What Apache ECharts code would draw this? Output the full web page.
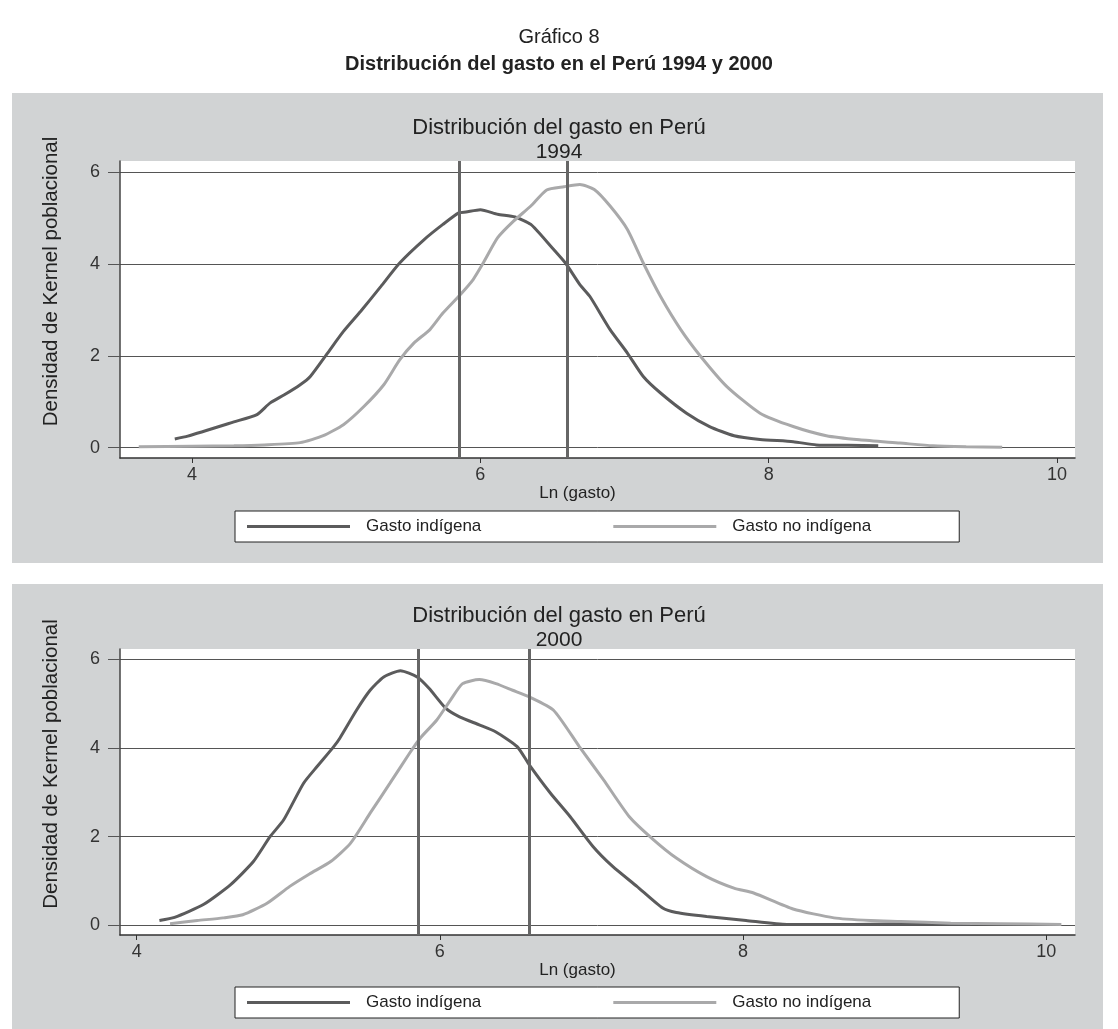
<!DOCTYPE html>
<html>
<head>
<meta charset="utf-8">
<script src="https://cdn.jsdelivr.net/npm/echarts@6/dist/echarts.min.js"></script>
<style>
  html, body { margin: 0; padding: 0; background: #fff; }
  #chart { width: 1118px; height: 1029px; }
</style>
</head>
<body>
<div id="chart"></div>
<script>
// tick labels
var xTicks = [4, 6, 8, 10];
var yTicks = [0, 2, 4, 6];
var seriesNames = ['Gasto indígena', 'Gasto no indígena'];

// 1994 - gasto indigena
var ind94X = [3.88, 3.97, 4.29, 4.45, 4.54, 4.64, 4.75, 4.82, 4.94, 5.05, 5.17, 5.31, 5.44, 5.61, 5.74, 5.85, 5.90, 6.00, 6.12, 6.24, 6.35, 6.49, 6.59, 6.69, 6.76, 6.90, 7.02, 7.13, 7.25, 7.43, 7.59, 7.76, 7.94, 8.17, 8.33, 8.55, 8.76];
var ind94Y = [0.19, 0.25, 0.56, 0.72, 0.97, 1.15, 1.37, 1.55, 2.06, 2.53, 2.97, 3.51, 4.02, 4.53, 4.86, 5.11, 5.13, 5.18, 5.08, 5.02, 4.86, 4.38, 4.02, 3.55, 3.29, 2.57, 2.06, 1.55, 1.19, 0.75, 0.46, 0.26, 0.18, 0.13, 0.06, 0.05, 0.04];
// 1994 - gasto no indigena
var noInd94X = [3.63, 4.00, 4.29, 4.50, 4.75, 4.91, 5.05, 5.19, 5.33, 5.44, 5.54, 5.65, 5.74, 5.86, 5.95, 6.02, 6.12, 6.23, 6.35, 6.46, 6.58, 6.69, 6.79, 6.90, 7.02, 7.13, 7.25, 7.39, 7.53, 7.71, 7.94, 8.17, 8.40, 8.63, 8.91, 9.14, 9.37, 9.62];
var noInd94Y = [0.02, 0.03, 0.04, 0.06, 0.11, 0.26, 0.50, 0.89, 1.37, 1.91, 2.28, 2.57, 2.93, 3.33, 3.66, 4.02, 4.57, 4.93, 5.26, 5.61, 5.68, 5.73, 5.62, 5.26, 4.75, 4.02, 3.29, 2.57, 1.98, 1.33, 0.75, 0.46, 0.26, 0.17, 0.10, 0.04, 0.02, 0.01];
// 2000 - gasto indigena
var ind00X = [4.15, 4.25, 4.44, 4.62, 4.77, 4.88, 4.97, 5.10, 5.19, 5.30, 5.34, 5.45, 5.54, 5.63, 5.74, 5.85, 5.93, 6.04, 6.13, 6.26, 6.37, 6.51, 6.59, 6.73, 6.86, 7.01, 7.14, 7.30, 7.47, 7.56, 7.76, 8.02, 8.29, 8.73, 9.17, 9.50];
var ind00Y = [0.11, 0.18, 0.47, 0.92, 1.44, 2.00, 2.38, 3.20, 3.58, 4.03, 4.22, 4.85, 5.30, 5.60, 5.74, 5.60, 5.34, 4.89, 4.70, 4.52, 4.36, 4.03, 3.62, 2.98, 2.45, 1.78, 1.33, 0.88, 0.39, 0.29, 0.20, 0.11, 0.02, 0.02, 0.04, 0.02];
// 2000 - gasto no indigena
var noInd00X = [4.22, 4.40, 4.57, 4.70, 4.86, 5.01, 5.14, 5.28, 5.41, 5.54, 5.67, 5.80, 5.87, 5.98, 6.07, 6.15, 6.26, 6.37, 6.48, 6.59, 6.75, 6.92, 7.08, 7.25, 7.41, 7.56, 7.76, 7.94, 8.07, 8.33, 8.60, 8.84, 9.04, 9.37, 9.70, 10.10];
var noInd00Y = [0.04, 0.11, 0.17, 0.24, 0.50, 0.88, 1.16, 1.44, 1.85, 2.53, 3.20, 3.88, 4.22, 4.63, 5.08, 5.45, 5.54, 5.45, 5.30, 5.15, 4.85, 4.03, 3.28, 2.45, 1.93, 1.52, 1.10, 0.84, 0.73, 0.37, 0.17, 0.11, 0.09, 0.05, 0.04, 0.02];

// medias (lineas verticales)
var means94 = [5.85, 6.60];
var means00 = [5.86, 6.59];

var FONT = '"Liberation Sans", Arial, sans-serif';
var DARK = '#5b5b5c';
var LIGHT = '#a9a9aa';

function zip(xs, ys) {
    return xs.map(function (x, i) { return [x, ys[i]]; });
}

function xAxisFor(idx, min, max) {
    return {
        type: 'value', gridIndex: idx, min: min, max: max,
        name: 'Ln (gasto)', nameLocation: 'middle', nameGap: 27,
        // titulo un poco corrido a la izquierda, como en el original
        nameTextStyle: { fontFamily: FONT, fontSize: 17, color: '#222', padding: [0, 40, 0, 0] },
        axisLine: { show: true, onZero: false, lineStyle: { color: '#333', width: 1.5 } },
        axisTick: { show: true, length: 5, customValues: xTicks, lineStyle: { color: '#333' } },
        axisLabel: { customValues: xTicks, fontFamily: FONT, fontSize: 18, color: '#333', margin: 8 },
        splitLine: { show: false }
    };
}

function yAxisFor(idx, min, max) {
    return {
        type: 'value', gridIndex: idx, min: min, max: max,
        name: 'Densidad de Kernel poblacional', nameLocation: 'middle', nameGap: 58, nameRotate: 90,
        nameTextStyle: { fontFamily: FONT, fontSize: 20.5, color: '#222', padding: [0, 0, 0, 56] },
        axisLine: { show: true, onZero: false, lineStyle: { color: '#444', width: 1.5 } },
        axisTick: { show: true, length: 12, customValues: yTicks, lineStyle: { color: '#555' } },
        axisLabel: { customValues: yTicks, fontFamily: FONT, fontSize: 18, color: '#333', margin: 20 },
        splitLine: { show: true, lineStyle: { color: '#555', width: 1 } }
    };
}

function meanLine(vals) {
    return {
        silent: true, symbol: ['none', 'none'], label: { show: false },
        lineStyle: { color: '#666', width: 3, type: 'solid' },
        data: vals.map(function (v) { return { xAxis: v }; })
    };
}

function lineSeries(name, color, idx, data, marks) {
    var s = {
        name: name, type: 'line', xAxisIndex: idx, yAxisIndex: idx,
        data: data, showSymbol: false, smooth: 0.2, color: color,
        lineStyle: { color: color, width: 3 }
    };
    if (marks) s.markLine = meanLine(marks);
    return s;
}

function legendAt(top) {
    return {
        left: 235, top: top, icon: 'rect', itemWidth: 103, itemHeight: 3, itemGap: 132,
        padding: [7, 88, 7, 12],
        backgroundColor: '#fff', borderColor: '#222', borderWidth: 1, borderRadius: 0,
        selectedMode: false,
        textStyle: { fontFamily: FONT, fontSize: 17, color: '#222', padding: [0, 0, 0, 11] },
        data: seriesNames
    };
}

function textTitle(text, top, size, weight) {
    return {
        text: text, left: 'center', top: top,
        textStyle: { fontFamily: FONT, fontSize: size, fontWeight: weight, color: '#222' }
    };
}

var chart = echarts.init(document.getElementById('chart'), null, { renderer: 'canvas' });
chart.setOption({
    backgroundColor: '#fff',
    animation: false,
    graphic: [
        { type: 'rect', z: -10, shape: { x: 12, y: 93, width: 1091, height: 470 }, style: { fill: '#d1d3d4' } },
        { type: 'rect', z: -10, shape: { x: 12, y: 584, width: 1091, height: 445 }, style: { fill: '#d1d3d4' } }
    ],
    title: [
        textTitle('Gráfico 8', 22, 20, 'normal'),
        textTitle('Distribución del gasto en el Perú 1994 y 2000', 49, 20, 'bold'),
        textTitle('Distribución del gasto en Perú', 112, 22, 'normal'),
        textTitle('1994', 137, 21, 'normal'),
        textTitle('Distribución del gasto en Perú', 600, 22, 'normal'),
        textTitle('2000', 625, 21, 'normal')
    ],
    legend: [legendAt(511), legendAt(987)],
    grid: [
        { left: 120, top: 161, right: 43, height: 297, show: true, backgroundColor: '#fff', borderWidth: 0 },
        { left: 120, top: 649, right: 43, height: 286, show: true, backgroundColor: '#fff', borderWidth: 0 }
    ],
    xAxis: [xAxisFor(0, 3.5, 10.125), xAxisFor(1, 3.89, 10.19)],
    yAxis: [yAxisFor(0, -0.225, 6.24), yAxisFor(1, -0.216, 6.23)],
    series: [
        lineSeries(seriesNames[0], DARK, 0, zip(ind94X, ind94Y), means94),
        lineSeries(seriesNames[1], LIGHT, 0, zip(noInd94X, noInd94Y)),
        lineSeries(seriesNames[0], DARK, 1, zip(ind00X, ind00Y), means00),
        lineSeries(seriesNames[1], LIGHT, 1, zip(noInd00X, noInd00Y))
    ]
});
</script>
</body>
</html>
